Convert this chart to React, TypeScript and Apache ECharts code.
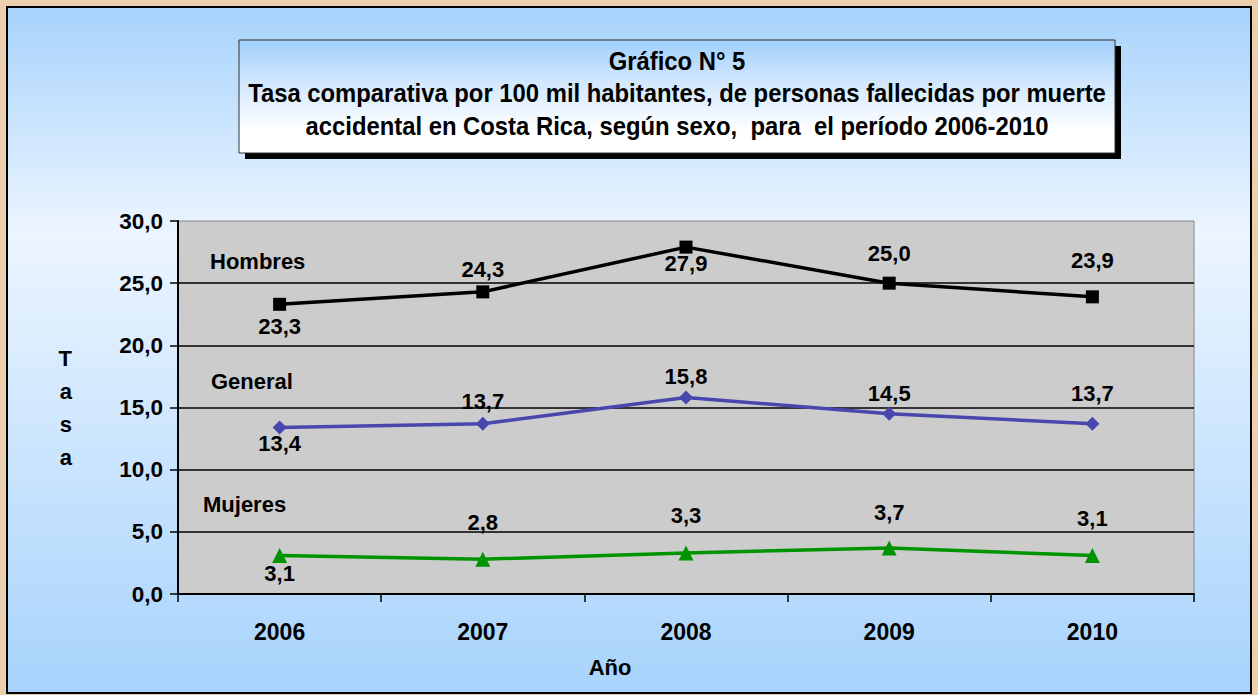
import React, { useEffect, useRef } from "react";
import * as echarts from "echarts";

const years = ["2006", "2007", "2008", "2009", "2010"];
const hombres = [23.3, 24.3, 27.9, 25.0, 23.9];
const general = [13.4, 13.7, 15.8, 14.5, 13.7];
const mujeres = [3.1, 2.8, 3.3, 3.7, 3.1];
const hombresLabelDy = [22, -22, 16, -30, -36];
const generalLabelDy = [16, -22, -21, -20, -30];
const mujeresLabelDy = [18, -37, -37, -35, -37];
const yMin = 0;
const yMax = 30;
const yInterval = 5;

const titleLines = [
  "Gráfico N° 5",
  "Tasa comparativa por 100 mil habitantes, de personas fallecidas por muerte",
  "accidental en Costa Rica, según sexo,  para  el período 2006-2010",
];

const FONT = '"Liberation Sans", Arial, sans-serif';

const fmt = (v: number) => v.toFixed(1).replace(".", ",");

function mkData(vals: number[], dys: number[]) {
  return vals.map((v, i) => ({ value: v, label: { offset: [0, dys[i]] } }));
}

const labelCfg = {
  show: true,
  position: "inside",
  formatter: (p: any) => fmt(p.value),
  fontSize: 22,
  fontWeight: "bold",
  color: "#000",
  fontFamily: FONT,
};

export default function App() {
  const ref = useRef<HTMLDivElement>(null);
  useEffect(() => {
    if (!ref.current) return;
    const chart = echarts.init(ref.current, null, { renderer: "svg" });
    const bgGrad = new echarts.graphic.LinearGradient(0, 0, 0, 1, [
      { offset: 0, color: "#a7d3fc" },
      { offset: 0.33, color: "#ecf5ff" },
      { offset: 1, color: "#a7d3fc" },
    ]);
    const titleGrad = new echarts.graphic.LinearGradient(0, 0, 0, 1, [
      { offset: 0, color: "#9fcffc" },
      { offset: 0.35, color: "#cfe6fd" },
      { offset: 0.8, color: "#ffffff" },
      { offset: 1, color: "#ffffff" },
    ]);
    const textStyle = (size: number) => ({
      fontSize: size,
      fontWeight: "bold",
      fontFamily: FONT,
      fill: "#000",
    });
    chart.setOption({
      animation: false,
      backgroundColor: "#eccfae",
      graphic: [
        {
          type: "rect",
          z: -10,
          shape: { x: 7, y: 7, width: 1244, height: 686 },
          style: { fill: bgGrad, stroke: "#000", lineWidth: 2 },
        },
        {
          type: "rect",
          z: 50,
          shape: { x: 245, y: 46, width: 876, height: 113 },
          style: { fill: "#000" },
        },
        {
          type: "rect",
          z: 51,
          shape: { x: 239, y: 40, width: 876, height: 113 },
          style: { fill: titleGrad, stroke: "#333", lineWidth: 1 },
        },
        ...titleLines.map((t, i) => ({
          type: "text",
          z: 52,
          x: 677,
          y: [61, 93, 126][i],
          scaleX: 0.9,
          style: { text: t, textAlign: "center", textVerticalAlign: "middle", ...textStyle(26.5) },
        })),
        {
          type: "text",
          z: 60,
          x: 210,
          y: 261,
          style: { text: "Hombres", textAlign: "left", textVerticalAlign: "middle", ...textStyle(22) },
        },
        {
          type: "text",
          z: 60,
          x: 211,
          y: 381,
          style: { text: "General", textAlign: "left", textVerticalAlign: "middle", ...textStyle(22) },
        },
        {
          type: "text",
          z: 60,
          x: 203,
          y: 504,
          style: { text: "Mujeres", textAlign: "left", textVerticalAlign: "middle", ...textStyle(22) },
        },
        {
          type: "text",
          z: 60,
          x: 610,
          y: 667,
          style: { text: "Año", textAlign: "center", textVerticalAlign: "middle", ...textStyle(22) },
        },
      ],
      grid: {
        left: 178,
        right: 64,
        top: 221,
        bottom: 101,
        show: true,
        backgroundColor: "#cccccc",
        borderColor: "#888",
        borderWidth: 1,
      },
      xAxis: {
        type: "category",
        data: years,
        boundaryGap: true,
        axisLine: { lineStyle: { color: "#000", width: 2 } },
        axisTick: { show: true, length: 8, lineStyle: { color: "#000", width: 1.5 } },
        axisLabel: { margin: 26, fontSize: 23, fontWeight: "bold", color: "#000", fontFamily: FONT },
        splitLine: { show: false },
      },
      yAxis: {
        type: "value",
        min: yMin,
        max: yMax,
        interval: yInterval,
        name: "T\na\ns\na",
        nameLocation: "middle",
        nameGap: 106,
        nameRotate: 0,
        nameTextStyle: { fontSize: 22, fontWeight: "bold", color: "#000", lineHeight: 33, fontFamily: FONT },
        axisLine: { show: true, lineStyle: { color: "#000", width: 2 } },
        axisTick: { show: true, length: 8, lineStyle: { color: "#000", width: 1.5 } },
        axisLabel: { margin: 15, fontSize: 22.5, fontWeight: "bold", color: "#000", fontFamily: FONT, formatter: (v: number) => fmt(v) },
        splitLine: { show: true, showMaxLine: false, lineStyle: { color: "#000", width: 1.5 } },
      },
      series: [
        {
          name: "Hombres",
          type: "line",
          data: mkData(hombres, hombresLabelDy),
          symbol: "rect",
          symbolSize: 13,
          lineStyle: { width: 3.5, color: "#000" },
          itemStyle: { color: "#000" },
          label: labelCfg,
          z: 5,
        },
        {
          name: "General",
          type: "line",
          data: mkData(general, generalLabelDy),
          symbol: "diamond",
          symbolSize: 14,
          lineStyle: { width: 3.5, color: "#4747ad" },
          itemStyle: { color: "#4747ad" },
          label: labelCfg,
          z: 5,
        },
        {
          name: "Mujeres",
          type: "line",
          data: mkData(mujeres, mujeresLabelDy),
          symbol: "triangle",
          symbolSize: 15,
          lineStyle: { width: 3.5, color: "#009400" },
          itemStyle: { color: "#009400" },
          label: labelCfg,
          z: 5,
        },
      ],
    });
    return () => chart.dispose();
  }, []);
  return (
    <div
      ref={ref}
      style={{ position: "fixed", left: 0, top: 0, width: 1258, height: 695 }}
    />
  );
}
